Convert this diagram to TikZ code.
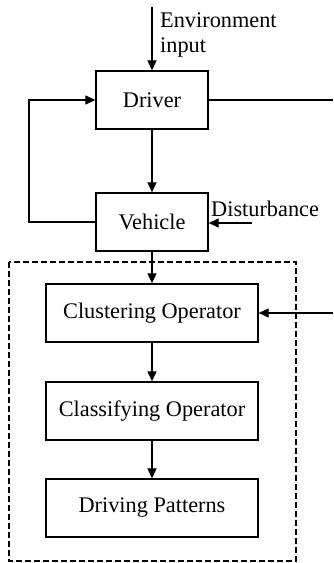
\documentclass[tikz,border=0pt]{standalone}
\usepackage{fontspec}
\setmainfont{Liberation Serif}
\usetikzlibrary{arrows.meta}
\begin{document}
\begin{tikzpicture}[x=1pt,y=-1pt,
  every node/.style={font=\fontsize{22.3}{26}\selectfont},
  blk/.style={draw,line width=1.3pt,inner sep=0pt,minimum height=58pt},
  small/.style={blk,minimum width=112pt},
  wide/.style={blk,minimum width=212pt},
  ln/.style={line width=1.2pt},
  arr/.style={ln,-{Triangle[length=10pt,width=9pt]}},
  lbl/.style={inner sep=0pt,anchor=base west}]
\useasboundingbox (0,0) rectangle (333,563);
\draw[line width=1.3pt,dash pattern=on 6pt off 3pt] (9,262) rectangle (296,561);
\node[small] (drv) at (152,100) {Driver};
\node[small] (veh) at (152,222) {Vehicle};
\node[wide] (clu) at (152,313) {Clustering Operator};
\node[wide] (cla) at (152,411) {Classifying Operator};
\node[wide] (pat) at (152,508) {Driving Patterns};
\node[lbl] (env1) at (160,27) {Environment};
\node[lbl] (env2) at (160,52) {input};
\node[lbl] (dist) at (211,216) {Disturbance};
\coordinate (top) at (152,7);
\coordinate (dsrc) at (252,223);
\coordinate (r1) at (333,100);
\coordinate (r2) at (333,313);
\coordinate (l1) at (29,222);
\coordinate (l2) at (29,100);
\draw[arr] (top) -- (drv.north);
\draw[arr] (drv) -- (veh);
\draw[arr] (veh) -- (clu);
\draw[arr] (clu) -- (cla);
\draw[arr] (cla) -- (pat);
\draw[arr] (dsrc) -- (veh.east |- dsrc);
\draw[ln] (drv.east) -- (r1);
\draw[arr] (r2) -- (clu.east);
\draw[arr] (veh.west) -- (l1) -- (l2) -- (drv.west);
\end{tikzpicture}
\end{document}
